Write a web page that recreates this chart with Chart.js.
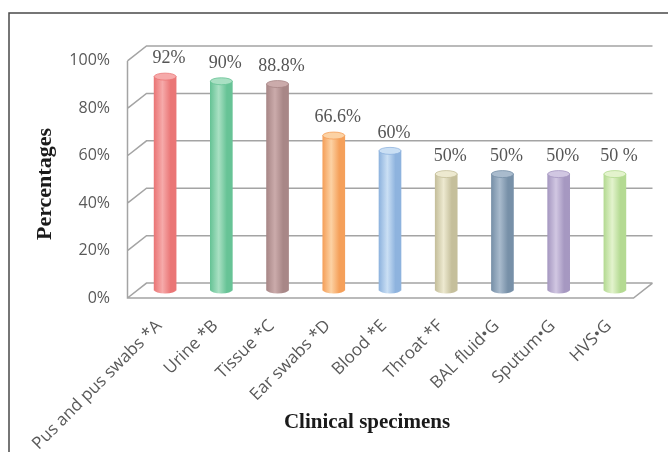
<!DOCTYPE html>
<html>
<head>
<meta charset="utf-8">
<title>Clinical specimens</title>
<script src="https://cdn.jsdelivr.net/npm/chart.js@4.4.1/dist/chart.umd.min.js"></script>
<style>
    html, body { margin: 0; padding: 0; background: #fff; }
    #wrap { position: relative; width: 668px; height: 452px; }
</style>
</head>
<body>
<div id="wrap"><canvas id="chart"></canvas></div>
<script>
// Data
const categories = ['Pus and pus swabs *A', 'Urine *B', 'Tissue *C', 'Ear swabs *D', 'Blood *E',
                    'Throat *F', 'BAL fluid•G', 'Sputum•G', 'HVS•G'];
const percentages = [92, 90, 88.8, 66.6, 60, 50, 50, 50, 50];
const valueLabels = ['92%', '90%', '88.8%', '66.6%', '60%', '50%', '50%', '50%', '50 %'];
const yTicks = [0, 20, 40, 60, 80, 100];

// Cylinder colours (edge tone, highlight tone)
const baseColors  = ['#ea7676', '#67c396', '#a88787', '#f5a05a', '#8eb3de', '#c5bf9b', '#7790a8', '#a698c1', '#b4da92'];
const lightColors = ['#f6aaaa', '#a9e0c3', '#cbabab', '#fcd2a4', '#cadff4', '#ede9d0', '#a9bbcd', '#d1c7e2', '#e3f3cd'];

const BAR_W = 22;      // cylinder width
const DEPTH_X = 9.5;   // half depth of the 3D floor
const CAP_RY = 3.5;    // ellipse height of the cylinder caps

function cylinderFill(ctx, cx, i) {
    if (!isFinite(cx)) return baseColors[i];
    const g = ctx.createLinearGradient(cx - BAR_W / 2, 0, cx + BAR_W / 2, 0);
    g.addColorStop(0, baseColors[i]);
    g.addColorStop(0.38, lightColors[i]);
    g.addColorStop(0.75, baseColors[i]);
    g.addColorStop(1, baseColors[i]);
    return g;
}

// Draws the frame, the 3D walls, cylinder caps, value labels and titles
const chart3d = {
    id: 'chart3d',
    beforeDraw(chart) {
        const ctx = chart.ctx;
        ctx.save();
        ctx.fillStyle = '#fff';
        ctx.fillRect(0, 0, chart.width, chart.height);
        ctx.strokeStyle = '#4a4a4a';
        ctx.lineWidth = 1.5;
        ctx.beginPath();
        ctx.moveTo(9, chart.height);
        ctx.lineTo(9, 13);
        ctx.lineTo(chart.width, 13);
        ctx.stroke();
        ctx.restore();
    },
    beforeDatasetsDraw(chart) {
        const { ctx, chartArea: a, scales } = chart;
        const front = scales.yFront, back = scales.yBack;
        ctx.save();
        ctx.strokeStyle = '#a4a4a4';
        ctx.lineWidth = 1.5;
        ctx.beginPath();
        yTicks.forEach(v => {
            const yf = front.getPixelForValue(v);
            const yb = back.getPixelForValue(v);
            ctx.moveTo(a.left - DEPTH_X, yf);
            ctx.lineTo(a.left + DEPTH_X, yb);
            ctx.lineTo(a.right + DEPTH_X, yb);
        });
        const f0 = front.getPixelForValue(0);
        const f100 = front.getPixelForValue(100);
        const b0 = back.getPixelForValue(0);
        ctx.moveTo(a.left - DEPTH_X, f100);
        ctx.lineTo(a.left - DEPTH_X, f0);
        ctx.lineTo(a.right - DEPTH_X, f0);
        ctx.lineTo(a.right + DEPTH_X, b0);
        ctx.stroke();
        ctx.restore();
    },
    afterDatasetsDraw(chart) {
        const ctx = chart.ctx;
        const meta = chart.getDatasetMeta(0);
        ctx.save();
        meta.data.forEach((bar, i) => {
            const rx = bar.width / 2;
            // rounded bottom
            ctx.beginPath();
            ctx.ellipse(bar.x, bar.base, rx, CAP_RY, 0, 0, Math.PI);
            ctx.fillStyle = cylinderFill(ctx, bar.x, i);
            ctx.fill();
            // top cap
            ctx.beginPath();
            ctx.ellipse(bar.x, bar.y, rx, CAP_RY, 0, 0, Math.PI * 2);
            ctx.fillStyle = lightColors[i];
            ctx.fill();
            ctx.strokeStyle = baseColors[i];
            ctx.lineWidth = 0.8;
            ctx.stroke();
            // value label
            ctx.fillStyle = '#555';
            ctx.font = '18px "Liberation Serif", "Times New Roman", serif';
            ctx.textAlign = 'center';
            ctx.textBaseline = 'middle';
            ctx.fillText(valueLabels[i], bar.x + 4, bar.y - 18);
        });
        ctx.restore();
    },
    afterDraw(chart) {
        const ctx = chart.ctx;
        ctx.save();
        ctx.fillStyle = '#1a1a1a';
        ctx.textAlign = 'center';
        ctx.textBaseline = 'middle';
        ctx.font = 'bold 22px "Liberation Serif", "Times New Roman", serif';
        ctx.translate(45, 184);
        ctx.rotate(-Math.PI / 2);
        ctx.fillText('Percentages', 0, 0);
        ctx.restore();

        ctx.save();
        ctx.fillStyle = '#1a1a1a';
        ctx.textAlign = 'center';
        ctx.textBaseline = 'middle';
        ctx.font = 'bold 21px "Liberation Serif", "Times New Roman", serif';
        ctx.fillText('Clinical specimens', 367, 423);
        ctx.restore();
    }
};

const ctx = document.getElementById('chart').getContext('2d');
new Chart(ctx, {
    type: 'bar',
    data: {
        labels: categories,
        datasets: [{
            data: percentages,
            yAxisID: 'y',
            barThickness: BAR_W,
            borderWidth: 0,
            backgroundColor(c) {
                const xs = c.chart.scales.x;
                if (c.type !== 'data' || !xs) return baseColors[c.dataIndex] || baseColors[0];
                return cylinderFill(c.chart.ctx, xs.getPixelForValue(c.dataIndex), c.dataIndex);
            }
        }]
    },
    options: {
        responsive: true,
        maintainAspectRatio: false,
        animation: false,
        events: [],
        layout: { padding: { top: 46, right: 25, left: 0, bottom: 0 } },
        plugins: {
            legend: { display: false },
            tooltip: { enabled: false }
        },
        scales: {
            x: {
                grid: { display: false, drawTicks: false },
                border: { display: false },
                afterFit(scale) { scale.height = 154; },
                ticks: {
                    autoSkip: false,
                    minRotation: 45,
                    maxRotation: 45,
                    padding: 18,
                    labelOffset: -6,
                    color: '#595959',
                    font: { family: '"Open Sans", sans-serif', size: 17 }
                }
            },
            // scale of the cylinders (middle depth)
            y: { display: false, min: -3.4, max: 105.2 },
            // front edge of the left wall, carries the tick labels
            yFront: {
                position: 'left',
                min: 0,
                max: 106.3,
                grid: { display: false, drawTicks: false },
                border: { display: false },
                afterFit(scale) { scale.width = 137; },
                afterBuildTicks(scale) { scale.ticks = yTicks.map(v => ({ value: v })); },
                ticks: {
                    padding: 27,
                    color: '#595959',
                    font: { family: '"Open Sans", sans-serif', size: 16 },
                    callback: v => v + '%'
                }
            },
            // back wall of the 3D box
            yBack: { display: false, min: -6.3, max: 100 }
        }
    },
    plugins: [chart3d]
});
</script>
</body>
</html>
